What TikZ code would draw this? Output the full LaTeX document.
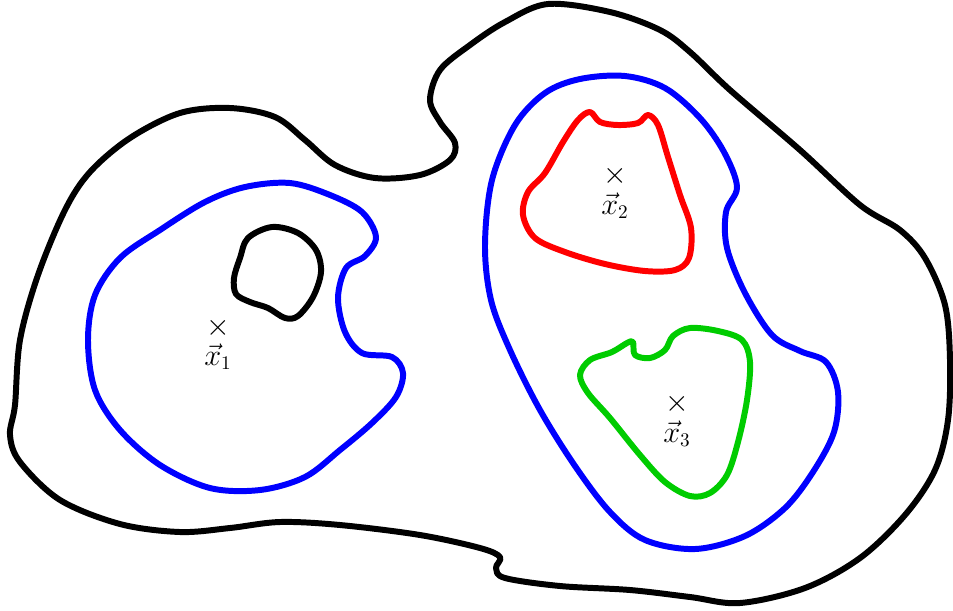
\documentclass[tikz,border=0pt]{standalone}
\begin{document}
\begin{tikzpicture}[x=0.02cm,y=-0.02cm,
  curve/.style={line width=3.4pt,line join=round},
  lbl/.style={inner sep=0pt,font=\fontsize{16}{19}\selectfont}]
\useasboundingbox (0,0) rectangle (953,610);
% outer black
\draw[curve,black] plot[smooth cycle,tension=0.55] coordinates {
 (548,4) (610,12) (660,30) (690,52) (730,90) (800,150) (860,205) (900,230) (925,258)
 (945,305) (950,360) (948,420) (935,470) (905,515) (860,558) (805,588) (740,603)
 (690,597) (630,590) (560,586) (505,578) (496,568) (500,557) (480,548) (420,535)
 (340,525) (280,522) (230,528) (180,532) (120,524) (60,500) (20,462) (10,435)
 (15,405) (20,340) (38,275) (65,210) (90,172) (130,138) (180,113) (230,108)
 (275,117) (305,140) (335,165) (375,178) (420,175) (450,160) (455,143) (440,122)
 (430,100) (440,70) (470,45) (505,22)};
% inner small black
\draw[curve,black] plot[smooth cycle,tension=0.55] coordinates {
 (248,238) (272,227) (298,233) (316,250) (321,272) (313,297) (298,316) (285,318)
 (268,308) (250,302) (236,294) (234,278) (240,258)};
% blue left
\draw[curve,blue] plot[smooth cycle,tension=0.55] coordinates {
 (120,258) (160,230) (205,202) (245,187) (290,183) (330,195) (362,212) (376,237)
 (365,256) (346,268) (338,298) (345,332) (362,353) (392,357) (403,373) (396,397)
 (372,423) (340,450) (305,477) (260,490) (210,488) (160,465) (120,430) (95,390)
 (88,340) (95,295)};
% blue right
\draw[curve,blue] plot[smooth cycle,tension=0.55] coordinates {
 (515,125) (545,93) (580,79) (625,76) (665,88) (700,118) (724,152) (737,187)
 (726,212) (727,248) (745,293) (772,335) (800,351) (826,362) (838,392) (834,432)
 (813,472) (785,508) (745,536) (695,549) (645,540) (610,512) (575,466) (540,410)
 (510,350) (491,300) (485,245) (492,180)};
% red
\draw[curve,red] plot[smooth cycle,tension=0.55] coordinates {
 (545,173) (563,142) (578,120) (590,112) (600,122) (618,125) (638,123) (648,115)
 (658,125) (668,157) (680,195) (691,228) (689,258) (675,270) (645,271) (605,264)
 (565,252) (535,238) (523,215) (528,192)};
% green
\draw[curve,green!80!black] plot[smooth cycle,tension=0.55] coordinates {
 (590,360) (612,352) (627,343) (633,342) (635,355) (650,358) (665,350) (673,336)
 (690,328) (718,331) (742,340) (750,362) (747,400) (738,442) (727,475) (710,493)
 (690,496) (665,482) (640,455) (610,418) (588,393) (580,375)};
% labels
\node[lbl] (c1) at (218,328) {$\times$};
\node[lbl,anchor=base] (l1) at (218,365) {$\vec{x}_1$};
\node[lbl] (c2) at (615,176) {$\times$};
\node[lbl,anchor=base] (l2) at (615,214) {$\vec{x}_2$};
\node[lbl] (c3) at (677,404) {$\times$};
\node[lbl,anchor=base] (l3) at (677,442) {$\vec{x}_3$};
\end{tikzpicture}
\end{document}
